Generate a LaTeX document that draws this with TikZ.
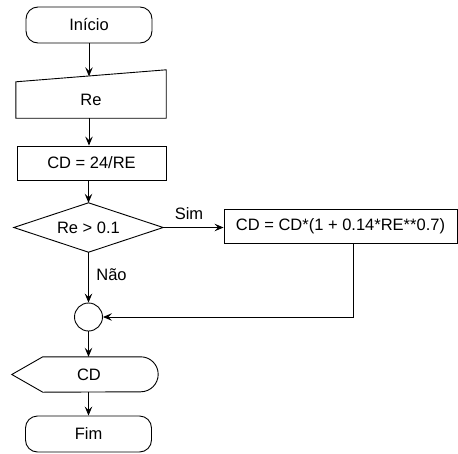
\documentclass[tikz,border=0pt]{standalone}
\usepackage{fontspec}
\setmainfont{Liberation Sans}
\usetikzlibrary{arrows.meta,calc}
\begin{document}
\begin{tikzpicture}[x=1pt,y=1pt,
  every node/.style={font=\fontsize{16.5}{20}\selectfont, inner sep=0pt},
  flow/.style={line width=0.9pt, draw=black},
  arr/.style={flow, -{Stealth[length=9pt,width=7.5pt,inset=3.5pt]}},
  term/.style={flow, rounded corners=12pt, minimum width=126pt, minimum height=36pt},
  proc/.style={flow, minimum height=34pt},
  frame/.style={minimum width=#1}
]
\useasboundingbox (0,0) rectangle (458,-453);

% terminals, steps and decision
\node[term] (start) at (89,-25) {Início};

\node[frame=150pt, minimum height=36pt] (in) at (91,-100) {Re};
\draw[flow] (in.south west) -- (in.north west) -- ($(in.north east)+(0,12)$)
  -- (in.south east) -- cycle;
\coordinate (inTop) at (89,-76.3);

\node[proc, frame=149pt] (calc) at (91.5,-163) {CD = 24/RE};

\node[frame=149pt, minimum height=49pt] (test) at (88.5,-227.5) {Re > 0.1};
\draw[flow] (test.north) -- (test.east) -- (test.south) -- (test.west) -- cycle;

\node[proc, frame=233pt] (upd) at (340.5,-226.5) {CD = CD*(1 + 0.14*RE**0.7)};

\node[flow, circle, minimum size=28pt] (join) at (88.5,-317) {};
\coordinate (drop) at (353,-317);

\node[frame=138pt, minimum height=35pt] (out) at (89,-374.5) {CD};
\draw[flow] ($(out.west)+(-8,0)$) -- ($(out.north west)+(23,0)$)
  -- ($(out.north east)+(-17.5,0)$) arc[start angle=90, end angle=-90, radius=17.5]
  -- ($(out.south west)+(23,0)$) -- cycle;

\node[term] (end) at (88.5,-434) {Fim};

% branch labels
\node (yes) at (189,-214) {Sim};
\node (no) at (111.5,-275) {Não};

% connectors
\draw[arr] (start.south) -- (inTop);
\draw[arr] (in.south -| start.south) -- (calc.north -| start.south);
\draw[arr] (calc.south -| test.north) -- (test.north);
\draw[arr] (test.east) -- (test.east -| upd.west);
\draw[arr] (test.south) -- (join.north);
\draw[arr] (upd.south -| drop) |- (join.east);
\draw[arr] (join.south) -- (join.south |- out.north);
\draw[arr] (out.south -| end.north) -- (end.north);
\end{tikzpicture}
\end{document}
